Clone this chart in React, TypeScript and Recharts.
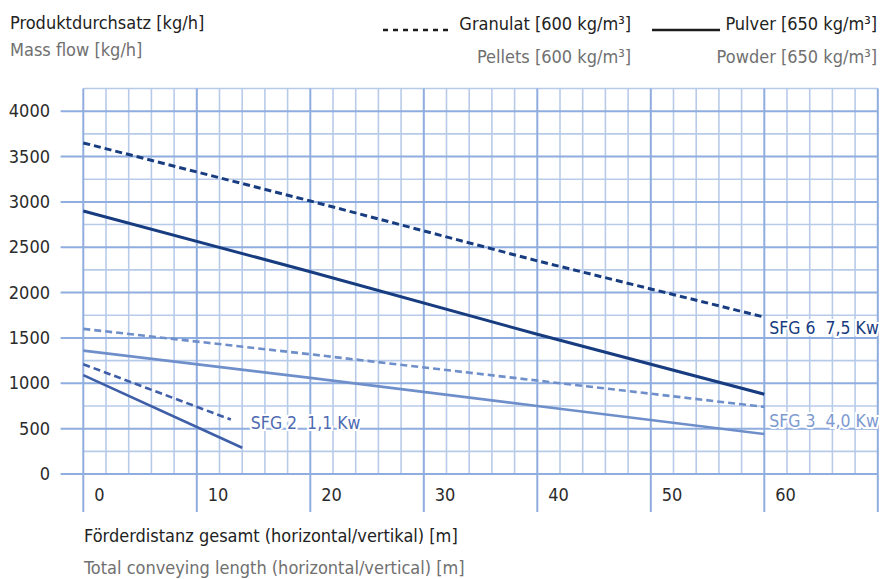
import { LineChart, Line, XAxis, YAxis, ReferenceLine } from 'recharts'

// Förderdistanz [m] / Produktdurchsatz [kg/h]
const sfg6Dist = [0, 20, 40, 60]
const sfg6Granulat = [3650, 3010, 2350, 1730]
const sfg6Pulver = [2900, 2230, 1540, 880]

const sfg3Dist = [0, 20, 40, 60]
const sfg3Granulat = [1600, 1320, 1030, 740]
const sfg3Pulver = [1360, 1060, 750, 440]

const sfg2GranulatDist = [0, 13]
const sfg2Granulat = [1210, 600]
const sfg2PulverDist = [0, 14]
const sfg2Pulver = [1090, 290]

const xTicks = [0, 10, 20, 30, 40, 50, 60]
const yTicks = [0, 500, 1000, 1500, 2000, 2500, 3000, 3500, 4000]

const labelSfg6 = 'SFG 6  7,5 Kw'
const labelSfg3 = 'SFG 3  4,0 Kw'
const labelSfg2 = 'SFG 2  1,1 Kw'

const X_MIN = -2
const X_MAX = 70
const Y_MIN = -420
const Y_MAX = 4250

const minorX = Array.from({ length: 36 }, (_, i) => i * 2).filter((v) => v % 10 !== 0)
const majorX = [0, 10, 20, 30, 40, 50, 60, 70]
const minorY = Array.from({ length: 9 }, (_, i) => 250 + i * 500)
const majorY = yTicks

const FONT = "'Liberation Sans Narrow', 'DejaVu Sans Condensed', 'Arial Narrow', sans-serif"

const NAVY = '#173c80'
const MID = '#3f5ea8'
const LIGHT = '#6f8fca'
const GRID_MINOR = '#b7cbe9'
const GRID_MAJOR = '#8fadde'

const toPoints = (xs: number[], ys: number[]) => xs.map((x, i) => ({ x, y: ys[i] }))

const endLabel = (text: string, color: string, count: number, dx: number, dy: number) =>
  (props: any) => {
    if (props.index !== count - 1) return null
    return (
      <text
        x={props.x + dx}
        y={props.y + dy}
        fill={color}
        fontSize={17.5}
        fontFamily={FONT}
        stroke="#fff"
        strokeWidth={4}
        paintOrder="stroke"
        style={{ whiteSpace: 'pre' }}
      >
        {text}
      </text>
    )
  }

const YTick = (props: any) => (
  <text x={50} y={props.y + 6} textAnchor="end" fontSize={18} fill="#2b2b2b" fontFamily={FONT}>
    {props.payload.value}
  </text>
)

const XTick = (props: any) => (
  <text x={props.x + 11} y={501} fontSize={18} fill="#2b2b2b" fontFamily={FONT}>
    {props.payload.value}
  </text>
)

export default function App() {
  return (
    <div style={{ position: 'absolute', left: 0, top: 0, width: 883, height: 579, background: '#fff' }}>
      <LineChart
        width={883}
        height={579}
        margin={{ top: 88.5, right: 5.2, bottom: 36.9, left: 0 }}
      >
        <XAxis
          type="number"
          dataKey="x"
          domain={[X_MIN, X_MAX]}
          ticks={xTicks}
          allowDataOverflow
          axisLine={false}
          tickLine={false}
          height={30}
          tick={<XTick />}
        />
        <YAxis
          type="number"
          domain={[Y_MIN, Y_MAX]}
          ticks={yTicks}
          allowDataOverflow
          axisLine={false}
          tickLine={false}
          width={60.6}
          tick={<YTick />}
        />
        {minorX.map((v) => (
          <ReferenceLine key={'mx' + v} segment={[{ x: v, y: 0 }, { x: v, y: Y_MAX }]} stroke={GRID_MINOR} strokeWidth={1.6} />
        ))}
        {minorY.map((v) => (
          <ReferenceLine key={'my' + v} segment={[{ x: 0, y: v }, { x: X_MAX, y: v }]} stroke={GRID_MINOR} strokeWidth={1.6} />
        ))}
        {majorY.map((v) => (
          <ReferenceLine key={'My' + v} segment={[{ x: X_MIN, y: v }, { x: X_MAX, y: v }]} stroke={GRID_MAJOR} strokeWidth={2} />
        ))}
        {majorX.map((v) => (
          <ReferenceLine key={'Mx' + v} segment={[{ x: v, y: Y_MIN }, { x: v, y: Y_MAX }]} stroke={GRID_MAJOR} strokeWidth={2} />
        ))}
        <Line
          data={toPoints(sfg6Dist, sfg6Granulat)}
          dataKey="y"
          stroke={NAVY}
          strokeWidth={3}
          strokeDasharray="7 4"
          dot={false}
          isAnimationActive={false}
          label={endLabel(labelSfg6, NAVY, sfg6Dist.length, 5, 17)}
        />
        <Line
          data={toPoints(sfg6Dist, sfg6Pulver)}
          dataKey="y"
          stroke={NAVY}
          strokeWidth={3}
          dot={false}
          isAnimationActive={false}
        />
        <Line
          data={toPoints(sfg3Dist, sfg3Granulat)}
          dataKey="y"
          stroke={LIGHT}
          strokeWidth={2.6}
          strokeDasharray="7 4"
          dot={false}
          isAnimationActive={false}
          label={endLabel(labelSfg3, '#7d99d0', sfg3Dist.length, 5, 20)}
        />
        <Line
          data={toPoints(sfg3Dist, sfg3Pulver)}
          dataKey="y"
          stroke={LIGHT}
          strokeWidth={2.6}
          dot={false}
          isAnimationActive={false}
        />
        <Line
          data={toPoints(sfg2GranulatDist, sfg2Granulat)}
          dataKey="y"
          stroke={MID}
          strokeWidth={2.6}
          strokeDasharray="7 4"
          dot={false}
          isAnimationActive={false}
          label={endLabel(labelSfg2, '#4d6bb2', sfg2GranulatDist.length, 20, 9.5)}
        />
        <Line
          data={toPoints(sfg2PulverDist, sfg2Pulver)}
          dataKey="y"
          stroke={MID}
          strokeWidth={2.6}
          dot={false}
          isAnimationActive={false}
        />
      </LineChart>

      <svg
        width={883}
        height={579}
        style={{ position: 'absolute', left: 0, top: 0, pointerEvents: 'none' }}
        fontFamily={FONT}
        fontSize={18}
      >
        <text x={10} y={28.5} fill="#222">Produktdurchsatz [kg/h]</text>
        <text x={10} y={56} fill="#707070">Mass flow [kg/h]</text>

        <line x1={383} y1={30} x2={452} y2={30} stroke="#1c1c1c" strokeWidth={2.6} strokeDasharray="5 5" />
        <text x={631} y={29.5} textAnchor="end" fill="#222">Granulat [600 kg/m³]</text>
        <text x={631} y={63} textAnchor="end" fill="#707070">Pellets [600 kg/m³]</text>

        <line x1={652} y1={30} x2={720} y2={30} stroke="#1c1c1c" strokeWidth={2.6} />
        <text x={877} y={29.5} textAnchor="end" fill="#222">Pulver [650 kg/m³]</text>
        <text x={877} y={63} textAnchor="end" fill="#707070">Powder [650 kg/m³]</text>

        <text x={84} y={542} fill="#222">Förderdistanz gesamt (horizontal/vertikal) [m]</text>
        <text x={84} y={574} fill="#707070">Total conveying length (horizontal/vertical) [m]</text>
      </svg>
    </div>
  )
}
